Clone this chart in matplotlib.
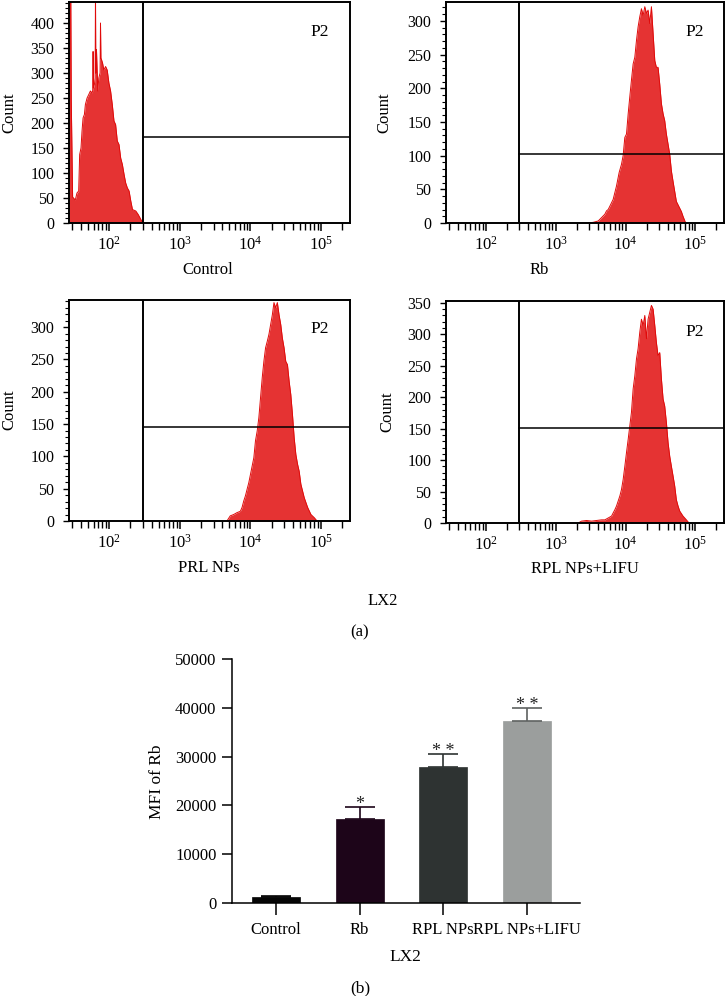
import matplotlib.pyplot as plt
import numpy as np
from matplotlib.ticker import MultipleLocator, LogLocator, FixedLocator, NullFormatter

plt.rcParams['font.family'] = ['Liberation Serif', 'DejaVu Serif']
plt.rcParams['mathtext.fontset'] = 'custom'
plt.rcParams['mathtext.rm'] = 'Liberation Serif'

# ---- flow histograms (log10 fluorescence, count) ----
ctrl_log = [1.433, 1.455, 1.462, 1.481, 1.519, 1.543, 1.567, 1.581, 1.600, 1.614,
            1.629, 1.648, 1.662, 1.686, 1.710, 1.733, 1.757, 1.766, 1.771, 1.776,
            1.790, 1.800, 1.805, 1.810, 1.819, 1.838, 1.852, 1.870, 1.876, 1.882,
            1.890, 1.905, 1.924, 1.948, 1.971, 1.995, 2.019, 2.043, 2.067, 2.090,
            2.114, 2.138, 2.162, 2.186, 2.210, 2.233, 2.257, 2.281, 2.305, 2.329,
            2.376, 2.410, 2.448, 2.477]
ctrl_cnt = [460, 460, 246, 52, 46, 60, 64, 137, 150, 183,
            210, 217, 237, 250, 257, 264, 260, 265, 343, 270,
            277, 290, 460, 300, 347, 264, 290, 300, 400, 330,
            327, 320, 306, 313, 306, 280, 264, 237, 204, 197,
            164, 157, 130, 117, 97, 80, 70, 64, 44, 27,
            24, 17, 7, 0]

rb_log = [3.466, 3.538, 3.609, 3.657, 3.704, 3.728, 3.752, 3.776, 3.823, 3.871,
          3.909, 3.942, 3.966, 3.990, 4.014, 4.038, 4.061, 4.085, 4.109, 4.133,
          4.157, 4.180, 4.204, 4.228, 4.252, 4.276, 4.300, 4.323, 4.347, 4.371,
          4.395, 4.419, 4.442, 4.466, 4.490, 4.514, 4.538, 4.561, 4.585, 4.609,
          4.633, 4.657, 4.680, 4.704, 4.728, 4.752, 4.776, 4.800, 4.823, 4.861]
rb_cnt = [0, 1, 3, 8, 13, 18, 20, 25, 35, 55,
          75, 87, 100, 127, 132, 162, 187, 212, 236, 246,
          271, 291, 306, 318, 308, 321, 311, 316, 296, 321,
          281, 241, 231, 231, 206, 177, 162, 152, 132, 117,
          102, 77, 62, 47, 32, 27, 22, 17, 10, 0]

prl_log = [3.667, 3.714, 3.762, 3.810, 3.857, 3.881, 3.905, 3.929, 3.952, 3.976,
           4.000, 4.024, 4.048, 4.071, 4.095, 4.119, 4.143, 4.167, 4.190, 4.214,
           4.238, 4.262, 4.286, 4.310, 4.333, 4.357, 4.381, 4.405, 4.429, 4.452,
           4.476, 4.500, 4.524, 4.548, 4.571, 4.595, 4.619, 4.643, 4.667, 4.690,
           4.714, 4.762, 4.810, 4.857, 4.905, 4.943]
prl_cnt = [0, 8, 10, 13, 15, 21, 31, 39, 49, 59,
           72, 85, 98, 124, 139, 160, 191, 222, 247, 268,
           278, 289, 304, 319, 338, 330, 338, 319, 304, 283,
           268, 247, 242, 216, 196, 165, 129, 103, 88, 77,
           57, 36, 21, 10, 5, 0]

lifu_log = [3.323, 3.371, 3.442, 3.514, 3.585, 3.657, 3.704, 3.752, 3.800, 3.823,
            3.847, 3.871, 3.895, 3.919, 3.942, 3.966, 3.990, 4.014, 4.038, 4.061,
            4.085, 4.109, 4.133, 4.157, 4.180, 4.204, 4.228, 4.252, 4.276, 4.300,
            4.323, 4.347, 4.371, 4.395, 4.419, 4.442, 4.466, 4.490, 4.514, 4.538,
            4.561, 4.585, 4.609, 4.633, 4.657, 4.680, 4.704, 4.728, 4.752, 4.776,
            4.823, 4.871, 4.909]
lifu_cnt = [0, 3, 4, 3, 4, 5, 5, 8, 11, 16,
            21, 27, 35, 43, 53, 69, 90, 112, 133, 154,
            176, 213, 234, 261, 277, 303, 324, 314, 330, 293,
            324, 335, 346, 340, 314, 287, 266, 271, 229, 197,
            186, 160, 128, 106, 90, 75, 59, 37, 27, 19,
            11, 5, 0]

hist_names = ['Control', 'Rb', 'PRL NPs', 'RPL NPs+LIFU']
hist_ymax = [442, 328, 342, 353]
gate_counts = [172, 102.5, 145, 151]
gate_x = 300

# ---- bar chart ----
bar_names = ['Control', 'Rb', 'RPL NPs', 'RPL NPs+LIFU']
bar_means = [1300, 17150, 27950, 37350]
bar_err = [200, 2600, 2600, 2550]
bar_stars = ['', '*', '* *', '* *']
bar_colors = ['#050505', '#1d0519', '#2e3332', '#9b9e9d']
err_colors = ['#050505', '#1d0519', '#2e3332', '#5e6160']

W, H = 727, 996
fig = plt.figure(figsize=(W / 100, H / 100), dpi=100)


def box(l, t, r, b):
    return [l / W, 1 - b / H, (r - l) / W, (b - t) / H]


def ftext(x, y, s, **kw):
    fig.text(x / W, 1 - y / H, s, ha='center', va='center', **kw)


fill_red = '#e53333'
edge_red = '#e00a0a'
xmin, xmax = 10 ** 1.43, 10 ** 5.41

hist_boxes = [(69, 2, 350, 223), (446, 2, 724, 223),
              (69, 300, 350, 521), (446, 301, 724, 523)]
hist_data = [(ctrl_log, ctrl_cnt), (rb_log, rb_cnt),
             (prl_log, prl_cnt), (lifu_log, lifu_cnt)]
label_pos = [(208, 270), (539, 270), (209, 568), (585, 569)]
p2_pos = [(320, 32), (695, 32), (320, 329), (695, 332)]
count_pos = [(9, 113), (384, 113), (9, 410), (387, 412)]

for i in range(4):
    ax = fig.add_axes(box(*hist_boxes[i]))
    lx, cnt = hist_data[i]
    x = 10 ** np.array(lx)
    ax.fill_between(x, cnt, 0, color=fill_red, lw=0)
    ax.plot(x, cnt, color=edge_red, lw=0.7)
    ax.set_xscale('log')
    ax.set_xlim(xmin, xmax)
    ax.set_ylim(0, hist_ymax[i])
    ax.axvline(gate_x, color='black', lw=1.4)
    ax.plot([gate_x, xmax], [gate_counts[i]] * 2, color='black', lw=1.1)

    ax.xaxis.set_major_locator(FixedLocator([1e2, 1e3, 1e4, 1e5]))
    ax.set_xticklabels([r'$\mathregular{10^{2}}$', r'$\mathregular{10^{3}}$',
                        r'$\mathregular{10^{4}}$', r'$\mathregular{10^{5}}$'])
    ax.xaxis.set_minor_locator(LogLocator(base=10, subs=range(2, 10), numticks=20))
    ax.xaxis.set_minor_formatter(NullFormatter())
    ax.yaxis.set_major_locator(MultipleLocator(50))
    ax.yaxis.set_minor_locator(MultipleLocator(10))
    ax.tick_params(axis='x', which='major', direction='out', length=6, width=1.1,
                   labelsize=12, pad=3)
    ax.tick_params(axis='x', which='minor', direction='out', length=5, width=1.0)
    ax.tick_params(axis='y', which='major', direction='out', length=4.5, width=1.0,
                   labelsize=11.5, pad=6)
    ax.tick_params(axis='y', which='minor', direction='out', length=3, width=0.8)
    for sp in ax.spines.values():
        sp.set_linewidth(1.4)

    ftext(*label_pos[i], hist_names[i], fontsize=12)
    ftext(*p2_pos[i], 'P2', fontsize=12.5)
    ftext(*count_pos[i], 'Count', fontsize=12, rotation=90)

ftext(383, 601, 'LX2', fontsize=12)
ftext(360, 632, '(a)', fontsize=12)

# ---- panel (b) ----
bx = fig.add_axes(box(232, 659, 580, 903))
pos = np.arange(len(bar_names))
bx.bar(pos, bar_means, width=0.575, color=bar_colors, edgecolor=bar_colors, lw=0.5)
for i in range(len(pos)):
    bx.errorbar(pos[i], bar_means[i], yerr=[[0], [bar_err[i]]], fmt='none',
                ecolor=err_colors[i], elinewidth=1.2, capsize=11, capthick=1.2)
    if bar_stars[i]:
        bx.annotate(bar_stars[i], (pos[i], bar_means[i] + bar_err[i]),
                    xytext=(0, -1.5), textcoords='offset points',
                    ha='center', va='baseline', fontsize=13, color='#222222')
bx.set_xlim(-0.526, 3.636)
bx.set_ylim(0, 50000)
bx.set_xticks(pos)
bx.set_xticklabels(bar_names)
bx.yaxis.set_major_locator(MultipleLocator(10000))
bx.tick_params(axis='x', direction='out', length=8.6, width=1.1, labelsize=12, pad=5)
bx.tick_params(axis='y', direction='out', length=7.2, width=1.1, labelsize=12, pad=4)
for side in ['top', 'right']:
    bx.spines[side].set_visible(False)
for side in ['left', 'bottom']:
    bx.spines[side].set_linewidth(1.1)

ftext(157, 782, 'MFI of Rb', fontsize=12.5, rotation=90)
ftext(405, 957, 'LX2', fontsize=12.5)
ftext(360, 988, '(b)', fontsize=12.5)

fig.savefig('out.png', dpi=100)
